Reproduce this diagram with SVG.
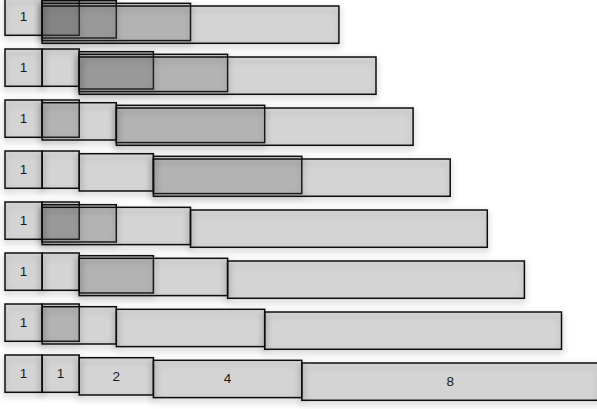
<svg xmlns="http://www.w3.org/2000/svg" width="597" height="409" viewBox="0 0 597 409">
<style>
.b{fill:#4a4a4a;fill-opacity:0.17;stroke:#111;stroke-width:1.5;filter:url(#sh)}
.t{font-family:"Liberation Sans",Arial,sans-serif;font-size:13.5px;fill:#1a1a1a;text-anchor:middle}
</style>
<defs>
<filter id="sh" x="-20%" y="-30%" width="140%" height="170%">
<feGaussianBlur in="SourceAlpha" stdDeviation="3.5" result="b"/>
<feOffset dy="3" result="o"/>
<feComponentTransfer in="o" result="s"><feFuncA type="linear" slope="0.4"/></feComponentTransfer>
<feMerge><feMergeNode in="s"/><feMergeNode in="SourceGraphic"/></feMerge>
</filter>
</defs>
<rect width="597" height="409" fill="#fff"/>
<!-- Row 1 -->
<g id="row1">
<g id="r1-a"><rect class="b" x="5" y="-2" width="37.1" height="37.3"/><text class="t" x="23.5" y="21">1</text></g>
<g id="r1-b"><rect class="b" x="42.1" y="-2" width="37.1" height="37.3"/></g>
<g id="r1-c"><rect class="b" x="42.1" y="0.7" width="74.2" height="37.3"/></g>
<g id="r1-d"><rect class="b" x="42.1" y="3.3" width="148.4" height="37.3"/></g>
<g id="r1-e"><rect class="b" x="42.1" y="6" width="296.8" height="37.3"/></g>
</g>
<!-- Row 2 -->
<g id="row2">
<g id="r2-a"><rect class="b" x="5" y="49" width="37.1" height="37.3"/><text class="t" x="23.5" y="72">1</text></g>
<g id="r2-b"><rect class="b" x="42.1" y="49" width="37.1" height="37.3"/></g>
<g id="r2-c"><rect class="b" x="79.2" y="51.7" width="74.2" height="37.3"/></g>
<g id="r2-d"><rect class="b" x="79.2" y="54.3" width="148.4" height="37.3"/></g>
<g id="r2-e"><rect class="b" x="79.2" y="57" width="296.8" height="37.3"/></g>
</g>
<!-- Row 3 -->
<g id="row3">
<g id="r3-a"><rect class="b" x="5" y="100" width="37.1" height="37.3"/><text class="t" x="23.5" y="123">1</text></g>
<g id="r3-b"><rect class="b" x="42.1" y="100" width="37.1" height="37.3"/></g>
<g id="r3-c"><rect class="b" x="42.1" y="102.7" width="74.2" height="37.3"/></g>
<g id="r3-d"><rect class="b" x="116.3" y="105.3" width="148.4" height="37.3"/></g>
<g id="r3-e"><rect class="b" x="116.3" y="108" width="296.8" height="37.3"/></g>
</g>
<!-- Row 4 -->
<g id="row4">
<g id="r4-a"><rect class="b" x="5" y="151" width="37.1" height="37.3"/><text class="t" x="23.5" y="174">1</text></g>
<g id="r4-b"><rect class="b" x="42.1" y="151" width="37.1" height="37.3"/></g>
<g id="r4-c"><rect class="b" x="79.2" y="153.7" width="74.2" height="37.3"/></g>
<g id="r4-d"><rect class="b" x="153.4" y="156.3" width="148.4" height="37.3"/></g>
<g id="r4-e"><rect class="b" x="153.4" y="159" width="296.8" height="37.3"/></g>
</g>
<!-- Row 5 -->
<g id="row5">
<g id="r5-a"><rect class="b" x="5" y="202" width="37.1" height="37.3"/><text class="t" x="23.5" y="225">1</text></g>
<g id="r5-b"><rect class="b" x="42.1" y="202" width="37.1" height="37.3"/></g>
<g id="r5-c"><rect class="b" x="42.1" y="204.7" width="74.2" height="37.3"/></g>
<g id="r5-d"><rect class="b" x="42.1" y="207.3" width="148.4" height="37.3"/></g>
<g id="r5-e"><rect class="b" x="190.5" y="210" width="296.8" height="37.3"/></g>
</g>
<!-- Row 6 -->
<g id="row6">
<g id="r6-a"><rect class="b" x="5" y="253" width="37.1" height="37.3"/><text class="t" x="23.5" y="276">1</text></g>
<g id="r6-b"><rect class="b" x="42.1" y="253" width="37.1" height="37.3"/></g>
<g id="r6-c"><rect class="b" x="79.2" y="255.7" width="74.2" height="37.3"/></g>
<g id="r6-d"><rect class="b" x="79.2" y="258.3" width="148.4" height="37.3"/></g>
<g id="r6-e"><rect class="b" x="227.6" y="261" width="296.8" height="37.3"/></g>
</g>
<!-- Row 7 -->
<g id="row7">
<g id="r7-a"><rect class="b" x="5" y="304" width="37.1" height="37.3"/><text class="t" x="23.5" y="327">1</text></g>
<g id="r7-b"><rect class="b" x="42.1" y="304" width="37.1" height="37.3"/></g>
<g id="r7-c"><rect class="b" x="42.1" y="306.7" width="74.2" height="37.3"/></g>
<g id="r7-d"><rect class="b" x="116.3" y="309.3" width="148.4" height="37.3"/></g>
<g id="r7-e"><rect class="b" x="264.7" y="312" width="296.8" height="37.3"/></g>
</g>
<!-- Row 8 -->
<g id="row8">
<g id="r8-a"><rect class="b" x="5" y="355" width="37.1" height="37.3"/><text class="t" x="23.5" y="378">1</text></g>
<g id="r8-b"><rect class="b" x="42.1" y="355" width="37.1" height="37.3"/><text class="t" x="60.6" y="378">1</text></g>
<g id="r8-c"><rect class="b" x="79.2" y="357.7" width="74.2" height="37.3"/><text class="t" x="116.3" y="380.7">2</text></g>
<g id="r8-d"><rect class="b" x="153.4" y="360.3" width="148.4" height="37.3"/><text class="t" x="227.6" y="383.3">4</text></g>
<g id="r8-e"><rect class="b" x="301.8" y="363" width="296.8" height="37.3"/><text class="t" x="450.2" y="386">8</text></g>
</g>
</svg>
